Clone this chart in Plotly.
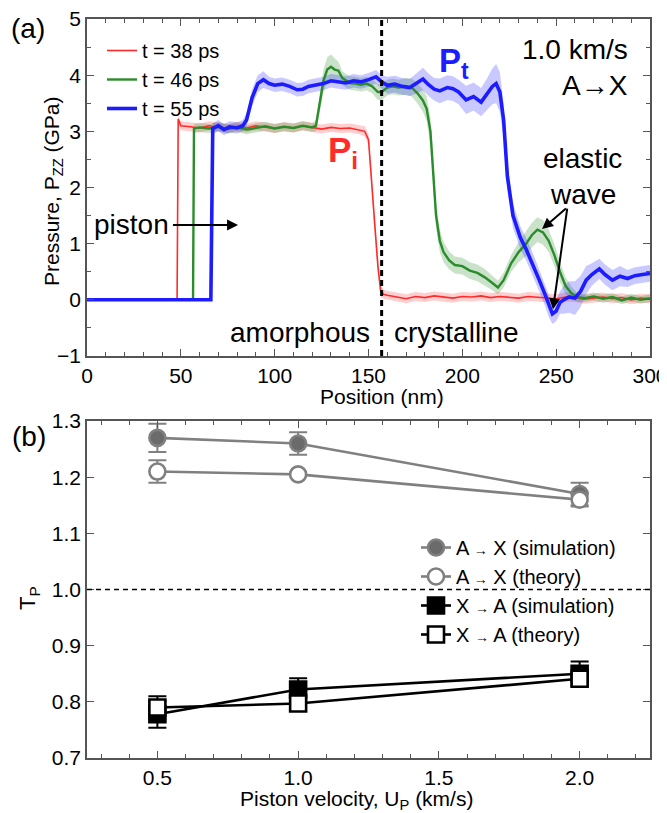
import plotly.graph_objects as go

# ---------------- Panel (a) data: position (nm), pressure (GPa), band half-width ----------------
red_x = [0, 48, 48.6, 50, 55, 60, 65, 70, 75, 80, 85, 90, 95, 100, 105, 110, 115, 120, 125, 130, 135, 140, 145, 148,
         150, 151.5, 153, 155, 156.5, 158, 160, 165, 170, 175, 180, 185, 190, 195, 200, 205, 210, 215, 220, 225, 230,
         235, 240, 245, 250, 255, 260, 265, 270, 275, 280, 285, 290, 295, 300]
red_y = [0, 0, 3.22, 3.1, 3.08, 3.06, 3.1, 3.07, 3.05, 3.09, 3.06, 3.1, 3.07, 3.05, 3.08, 3.06, 3.1, 3.07, 3.04, 3.07,
         3.05, 3.06, 3.03, 3.0, 2.85, 2.2, 1.4, 0.6, 0.15, 0.1, 0.08, 0.05, 0.02, 0.06, 0.04, 0.07, 0.05, 0.03, 0.06,
         0.05, 0.07, 0.04, 0.06, 0.05, 0.03, 0.06, 0.05, 0.04, 0.02, 0.05, 0.04, 0.01, 0.03, 0.05, 0.02, 0.04, 0.0,
         0.03, 0.02]
red_e = [0, 0, 0.08, 0.08, 0.08, 0.08, 0.08, 0.08, 0.08, 0.08, 0.08, 0.08, 0.08, 0.08, 0.08, 0.08, 0.08, 0.08, 0.08,
         0.08, 0.08, 0.08, 0.08, 0.09, 0.1, 0.12, 0.12, 0.12, 0.1, 0.08, 0.08, 0.08, 0.08, 0.08, 0.08, 0.08, 0.08, 0.08,
         0.08, 0.08, 0.08, 0.08, 0.08, 0.08, 0.08, 0.08, 0.08, 0.08, 0.08, 0.08, 0.08, 0.08, 0.08, 0.08, 0.08, 0.08,
         0.08, 0.08, 0.08]

green_x = [0, 56.5, 57, 60, 65, 70, 75, 80, 85, 90, 95, 100, 105, 110, 115, 120, 122, 124, 126, 128, 130, 132, 134, 136,
           138, 140, 143, 146, 149, 152, 155, 157, 160, 163, 166, 170, 173, 176, 179, 181, 183, 184.5, 186, 188, 190,
           193, 196, 200, 204, 208, 212, 216, 219, 222, 226, 230, 234, 237, 240, 243, 246, 249, 252, 255, 258, 261,
           265, 270, 275, 280, 285, 290, 295, 300]
green_y = [0, 0, 3.05, 3.07, 3.05, 3.08, 3.04, 3.07, 3.03, 3.06, 3.09, 3.05, 3.08, 3.06, 3.1, 3.07, 3.1, 3.5, 3.9, 4.1,
           4.15, 4.1, 4.08, 3.95, 3.9, 3.86, 3.85, 3.83, 3.85, 3.8, 3.7, 3.7, 3.78, 3.8, 3.78, 3.8, 3.78, 3.68, 3.55,
           3.4, 3.0, 2.2, 1.5, 1.05, 0.85, 0.7, 0.62, 0.6, 0.52, 0.48, 0.4, 0.3, 0.22, 0.35, 0.65, 0.85, 1.0, 1.15,
           1.25, 1.2, 1.05, 0.8, 0.5, 0.25, 0.12, 0.05, 0.03, 0.06, 0.02, 0.05, -0.01, 0.04, 0.0, 0.03]
green_e = [0, 0, 0.08, 0.08, 0.08, 0.08, 0.08, 0.08, 0.08, 0.08, 0.08, 0.08, 0.08, 0.08, 0.08, 0.08, 0.1, 0.15, 0.2,
           0.22, 0.22, 0.2, 0.16, 0.12, 0.12, 0.12, 0.12, 0.12, 0.12, 0.12, 0.14, 0.14, 0.14, 0.14, 0.14, 0.15, 0.16,
           0.18, 0.2, 0.22, 0.25, 0.25, 0.22, 0.2, 0.18, 0.16, 0.15, 0.15, 0.15, 0.15, 0.15, 0.13, 0.12, 0.13, 0.15,
           0.18, 0.22, 0.22, 0.22, 0.22, 0.2, 0.2, 0.18, 0.15, 0.12, 0.08, 0.07, 0.07, 0.07, 0.07, 0.07, 0.07, 0.07,
           0.07]

blue_x = [0, 66, 67, 70, 73, 76, 80, 83, 85, 88, 91, 94, 97, 100, 104, 108, 112, 115, 118, 122, 126, 130, 134, 138,
          142, 146, 150, 154, 157, 160, 164, 168, 172, 176, 179, 182, 185, 188, 192, 195, 198, 202, 206, 210, 213, 216,
          218, 220, 222, 224, 227, 231, 234, 238, 241, 244, 246, 248, 250, 252, 254, 257, 260, 263, 266, 269, 273,
          276, 280, 284, 288, 292, 296, 300]
blue_y = [0, 0, 3.05, 3.1, 3.03, 3.08, 3.06, 3.1, 3.2, 3.6, 3.85, 3.92, 3.85, 3.82, 3.84, 3.8, 3.74, 3.75, 3.8, 3.82,
          3.85, 3.9, 3.88, 3.86, 3.9, 3.88, 3.92, 3.97, 3.88, 3.82, 3.84, 3.8, 3.78, 3.86, 3.93, 3.83, 3.75, 3.72,
          3.78, 3.76, 3.7, 3.56, 3.62, 3.52, 3.65, 3.8, 3.85, 3.7, 3.2, 2.2, 1.5, 1.1, 0.9, 0.6, 0.35, 0.1, -0.1,
          -0.25, -0.2, -0.05, 0.0, 0.05, 0.03, 0.15, 0.35, 0.45, 0.55, 0.45, 0.35, 0.42, 0.38, 0.43, 0.45, 0.47]
blue_e = [0, 0, 0.1, 0.1, 0.1, 0.1, 0.1, 0.1, 0.12, 0.15, 0.15, 0.15, 0.12, 0.12, 0.12, 0.12, 0.12, 0.12, 0.12,
          0.12, 0.12, 0.12, 0.12, 0.12, 0.12, 0.12, 0.12, 0.12, 0.12, 0.15, 0.15, 0.15, 0.15, 0.18, 0.2, 0.2, 0.2,
          0.22, 0.22, 0.22, 0.22, 0.25, 0.25, 0.25, 0.28, 0.32, 0.35, 0.35, 0.3, 0.25, 0.22, 0.2, 0.2, 0.2, 0.2,
          0.2, 0.2, 0.18, 0.18, 0.2, 0.25, 0.28, 0.3, 0.28, 0.25, 0.2, 0.18, 0.18, 0.18, 0.18, 0.15, 0.15, 0.15,
          0.15]

series_names = ["t = 38 ps", "t = 46 ps", "t = 55 ps"]
interface_position = 157

# ---------------- Panel (b) data ----------------
velocity = [0.5, 1.0, 2.0]
ax_sim = [1.27, 1.26, 1.17]
ax_sim_err = [0.025, 0.02, 0.02]
ax_theory = [1.21, 1.205, 1.16]
ax_theory_err = [0.02, 0.0, 0.012]
xa_sim = [0.778, 0.822, 0.85]
xa_sim_err = [0.024, 0.02, 0.022]
xa_theory = [0.79, 0.797, 0.841]
xa_theory_err = [0.02, 0.0, 0.01]
ARROW = "<span style='font-size:14px'>\u2192</span>"
legend_b = ["A " + ARROW + " X (simulation)", "A " + ARROW + " X (theory)",
            "X " + ARROW + " A (simulation)", "X " + ARROW + " A (theory)"]

FONT = "Arial, Liberation Sans, sans-serif"
RED, GREEN, BLUE = "#ff2b2b", "#2a8c2a", "#1c1cff"
BANDS = ["rgba(255,60,60,0.25)", "rgba(42,140,42,0.25)", "rgba(40,40,255,0.25)"]

# figure geometry (pixels); the page body adds an 8px offset, so the figure is 8px smaller
OFF = 8
W, H = 667 - OFF, 813 - OFF
L, R, T, B = 87 - OFF, 17, 19 - OFF, 55
PW, PH = W - L - R, H - T - B


def px(x, y):
    """window pixel -> paper coordinates"""
    return (x - OFF - L) / PW, (H - B - (y - OFF)) / PH


fig = go.Figure()

top = [(red_x, red_y, red_e, RED, 1.6), (green_x, green_y, green_e, GREEN, 2.4), (blue_x, blue_y, blue_e, BLUE, 3.6)]
for i, (xs, ys, es, col, w) in enumerate(top):
    up = [y + e for y, e in zip(ys, es)]
    lo = [y - e for y, e in zip(ys, es)]
    fig.add_trace(go.Scatter(x=xs + xs[::-1], y=up + lo[::-1], fill="toself", fillcolor=BANDS[i],
                             line=dict(width=0), hoverinfo="skip", showlegend=False, xaxis="x", yaxis="y"))
for i, (xs, ys, es, col, w) in enumerate(top):
    fig.add_trace(go.Scatter(x=xs, y=ys, mode="lines", line=dict(color=col, width=w), name=series_names[i],
                             legend="legend", xaxis="x", yaxis="y"))

fig.add_trace(go.Scatter(x=[interface_position, interface_position], y=[-1, 5], mode="lines",
                         line=dict(color="black", width=3, dash="6px,4px"), showlegend=False, xaxis="x", yaxis="y"))

GRAY = "#808080"
bot = [
    (ax_sim, ax_sim_err, "circle", "#6b6b6b", GRAY, GRAY),
    (ax_theory, ax_theory_err, "circle", "white", GRAY, GRAY),
    (xa_sim, xa_sim_err, "square", "black", "black", "black"),
    (xa_theory, xa_theory_err, "square", "white", "black", "black"),
]
for k, (vals, errs, sym, fill, edge, lcol) in enumerate(bot):
    fig.add_trace(go.Scatter(x=velocity, y=vals, mode="lines+markers", name=legend_b[k], legend="legend2",
                             line=dict(color=lcol, width=2.6),
                             marker=dict(symbol=sym, size=16, color=fill, line=dict(color=edge, width=2.6)),
                             error_y=dict(type="data", array=errs, color=lcol, thickness=2, width=9),
                             xaxis="x2", yaxis="y2"))

fig.add_shape(type="line", xref="x2 domain", yref="y2", x0=0, x1=1, y0=1.0, y1=1.0,
              line=dict(color="black", width=1.3, dash="5px,4px"))

axis_common = dict(showline=True, linecolor="#555", linewidth=1.5, mirror="ticks", ticks="inside",
                   tickcolor="#555", tickwidth=1.3, ticklen=7, showgrid=False, zeroline=False, automargin=False,
                   ticklabeloverflow="allow", tickfont=dict(size=21, color="black", family=FONT))

fig.update_layout(
    width=W, height=H, margin=dict(l=L, r=R, t=T, b=B),
    paper_bgcolor="white", plot_bgcolor="white", font=dict(family=FONT, color="black"),
    xaxis=dict(domain=[0, 1], anchor="y", range=[0, 300], dtick=50,
               minor=dict(dtick=10, ticks="inside", ticklen=4, tickcolor="#555"), **axis_common),
    yaxis=dict(domain=[0.544, 1], anchor="x", range=[-1, 5], dtick=1,
               minor=dict(dtick=0.5, ticks="inside", ticklen=4, tickcolor="#555"), **axis_common),
    xaxis2=dict(domain=[0, 1], anchor="y2", range=[0.25, 2.25], tickvals=[0.5, 1.0, 1.5, 2.0], tickformat=".1f",
                minor=dict(dtick=0.1, tick0=0, ticks="inside", ticklen=4, tickcolor="#555"), **axis_common),
    yaxis2=dict(domain=[0, 0.456], anchor="x2", range=[0.7, 1.3], dtick=0.1, tickformat=".1f", **axis_common),
    legend=dict(x=px(102, 0)[0], y=px(0, 31)[1], xanchor="left", yanchor="top", bgcolor="rgba(0,0,0,0)",
                font=dict(size=20, family=FONT), itemwidth=30),
    legend2=dict(x=px(416, 0)[0], y=px(0, 528)[1], xanchor="left", yanchor="top", bgcolor="rgba(0,0,0,0)",
                 font=dict(size=20, family=FONT), itemwidth=30, tracegroupgap=0),
)

ann = []
for text, x, y, size, angle in [("(a)", 28, 28, 28, 0), ("(b)", 29, 437, 28, 0),
                                ("Position (nm)", 382, 396, 21, 0),
                                ("Piston velocity, U<sub>P</sub> (km/s)", 356, 800, 21, 0),
                                ("Pressure, P<sub>ZZ</sub> (GPa)", 53, 191, 21, -90),
                                ("T<sub>P</sub>", 29, 598, 22, -90)]:
    xp, yp = px(x, y)
    ann.append(dict(text=text, x=xp, y=yp, xref="paper", yref="paper", showarrow=False, textangle=angle,
                    xanchor="center", yanchor="middle", font=dict(size=size)))

ann += [
    dict(text="<b>P<sub>i</sub></b>", x=127.5, y=2.64, xref="x", yref="y", showarrow=False,
         font=dict(size=35, color=RED), xanchor="left"),
    dict(text="<b>P<sub>t</sub></b>", x=186.5, y=4.22, xref="x", yref="y", showarrow=False,
         font=dict(size=33, color=BLUE), xanchor="left"),
    dict(text="1.0 km/s", x=289.5, y=4.45, xref="x", yref="y", showarrow=False, font=dict(size=28),
         xanchor="right"),
    dict(text="A\u2192X", x=289.5, y=3.82, xref="x", yref="y", showarrow=False, font=dict(size=28), xanchor="right"),
    dict(text="elastic", x=264, y=2.52, xref="x", yref="y", showarrow=False, font=dict(size=28)),
    dict(text="wave", x=264.5, y=1.88, xref="x", yref="y", showarrow=False, font=dict(size=28)),
    dict(text="piston", x=2.5, y=1.35, xref="x", yref="y", showarrow=False, font=dict(size=28), xanchor="left"),
    dict(text="amorphous", x=152, y=-0.59, xref="x", yref="y", showarrow=False, font=dict(size=28),
         xanchor="right"),
    dict(text="crystalline", x=162.5, y=-0.59, xref="x", yref="y", showarrow=False, font=dict(size=28),
         xanchor="left"),
    dict(text="", x=80.5, y=1.33, ax=45, ay=1.33, xref="x", yref="y", axref="x", ayref="y", showarrow=True,
         arrowhead=2, arrowsize=1.1, arrowwidth=2, arrowcolor="black"),
    dict(text="", x=242.5, y=1.26, ax=256, ay=1.65, xref="x", yref="y", axref="x", ayref="y", showarrow=True,
         arrowhead=2, arrowsize=1.1, arrowwidth=2, arrowcolor="black"),
    dict(text="", x=248.3, y=-0.17, ax=256, ay=1.65, xref="x", yref="y", axref="x", ayref="y", showarrow=True,
         arrowhead=2, arrowsize=1.1, arrowwidth=2, arrowcolor="black"),
]
fig.update_layout(annotations=ann)

fig.write_html("out.html")
